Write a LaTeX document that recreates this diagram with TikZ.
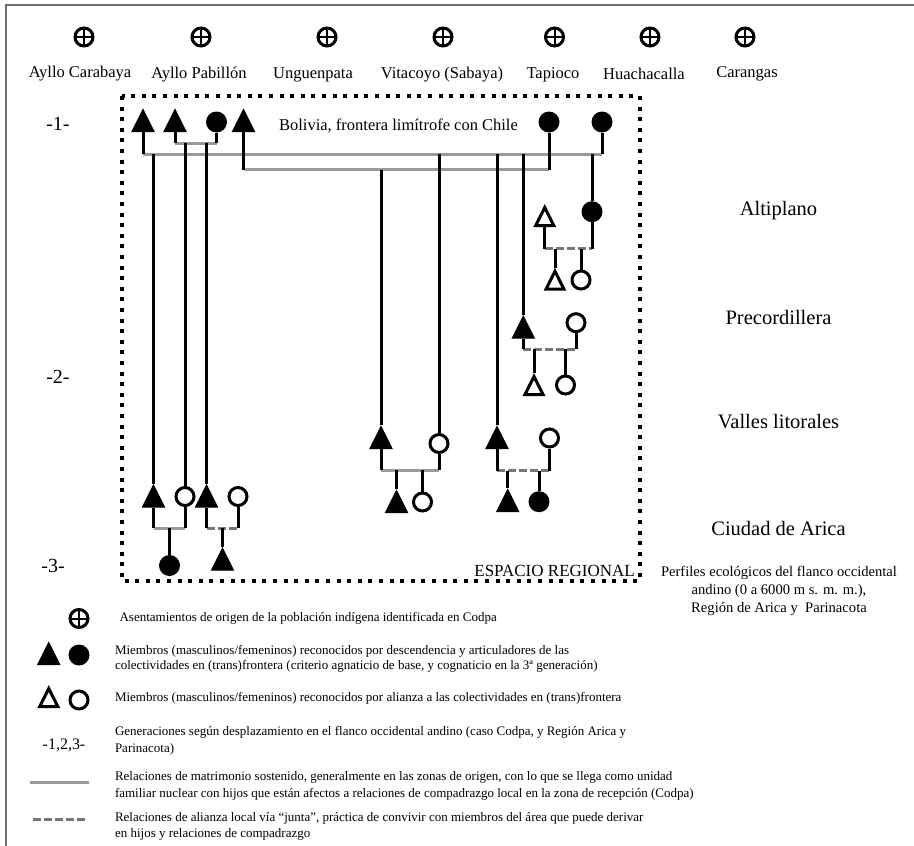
\documentclass[tikz,border=0pt]{standalone}
\usepackage{fontspec}
\setmainfont{Liberation Serif}
\usetikzlibrary{shapes.geometric}
\definecolor{bargray}{HTML}{9A9A9A}
\definecolor{dashgray}{HTML}{777777}
\definecolor{framegray}{HTML}{707070}
\tikzset{
  tri/.style={isosceles triangle,isosceles triangle apex angle=52,isosceles triangle stretches,
    shape border rotate=90,inner sep=0pt,minimum width=22pt,minimum height=22pt,draw=black,line width=1pt,anchor=south},
  man/.style={tri,fill=black},
  ally/.style={tri,fill=white,line width=3pt,minimum width=18pt,minimum height=18pt},
  woman/.style={circle,inner sep=0pt,minimum size=21pt,fill=black},
  wife/.style={circle,inner sep=0pt,minimum size=18pt,draw=black,line width=3pt,fill=white},
  origin/.style={circle,inner sep=0pt,minimum size=18pt,draw=black,line width=3pt,
    path picture={\draw[line width=2pt] (path picture bounding box.north) -- (path picture bounding box.south)
      (path picture bounding box.west) -- (path picture bounding box.east);}},
  stem/.style={line width=3pt,black},
  bar/.style={line width=3pt,bargray},
  junta/.style={line width=3pt,dashgray,dash pattern=on 8pt off 3pt},
  place/.style={font=\fontsize{16.5}{19}\selectfont},
  zone/.style={font=\fontsize{20.5}{24}\selectfont},
  gen/.style={font=\fontsize{20}{24}\selectfont},
  legend/.style={font=\fontsize{13}{15}\selectfont,anchor=west,inner sep=0pt},
}
\begin{document}
\begin{tikzpicture}[x=1pt,y=-1pt]
  \useasboundingbox (0,0) rectangle (914,846);
  % marco
  \draw[framegray,line width=2pt] (914,5) -- (6,5) -- (6,846);
  % asentamientos
  \node[origin] (o1) at (84,37) {};
  \node[origin] (o2) at (201,37) {};
  \node[origin] (o3) at (327,37) {};
  \node[origin] (o4) at (443,37) {};
  \node[origin] (o5) at (554.5,37) {};
  \node[origin] (o6) at (650,37) {};
  \node[origin] (o7) at (745,37) {};
  \node[place] (carabaya) at (80,74) {Ayllo Carabaya};
  \node[place] (pabellon) at (199,75) {Ayllo Pabillón};
  \node[place] (unguen) at (313,75) {Unguenpata};
  \node[place] (vitacoyo) at (442,75) {Vitacoyo (Sabaya)};
  \node[place] (tapioco) at (553,75) {Tapioco};
  \node[place] (huacha) at (644,74) {Huachacalla};
  \node[place] (carangas) at (747,74) {Carangas};
  % espacio regional
  \draw[line width=4pt,dash pattern=on 4pt off 6.6pt] (122,96) rectangle (640,581);
  \node[place,font=\fontsize{17}{19}\selectfont,anchor=east,inner sep=0pt] (espacio) at (635,571) {ESPACIO REGIONAL};
  \node[place] (bolivia) at (398.5,126) {Bolivia, frontera limítrofe con Chile};
  % generaciones
  \node[gen] (g1) at (58,124) {-1-};
  \node[gen] (g2) at (58,377) {-2-};
  \node[gen] (g3) at (53,566) {-3-};
  % pisos
  \node[zone] (alti) at (778.5,211) {Altiplano};
  \node[zone] (preco) at (778.5,317.5) {Precordillera};
  \node[zone] (valles) at (778.5,422) {Valles litorales};
  \node[zone] (ciudad) at (778.5,528) {Ciudad de Arica};
  \node[place,align=center,font=\fontsize{14.6}{18}\selectfont] (perfiles) at (779,591) {Perfiles ecológicos del flanco occidental\\andino (0 a 6000 m s. m. m.),\\Región de Arica y~ Parinacota};
  % primera generacion
  \node[man] (a1) at (143,132) {};
  \node[man] (a2) at (175,132) {};
  \node[woman] (a3) at (216.5,122) {};
  \node[man] (a4) at (243.5,132) {};
  \node[woman] (a5) at (549,122) {};
  \node[woman] (a6) at (602,122) {};
  \coordinate (ba) at (0,143);
  \coordinate (bb) at (0,154);
  \coordinate (bc) at (0,169.5);
  \draw[bar] (a2 |- ba) -- (a3 |- ba);
  \draw[bar] (a1 |- bb) -- (a6 |- bb);
  \draw[bar] (a4 |- bc) -- (a5 |- bc);
  \draw[stem] (a1.south) -- (a1 |- bb);
  \draw[stem] (a2.south) -- (a2 |- ba);
  \draw[stem] (a3.south) -- (a3 |- ba);
  \draw[stem] (a4.south) -- (a4 |- bc);
  \draw[stem] (a5.south) -- (a5 |- bc);
  \draw[stem] (a6.south) -- (a6 |- bb);
  % Arica, izquierda
  \node[man] (b1) at (153.5,507.5) {};
  \node[wife] (b2) at (185,496.5) {};
  \node[man] (b3) at (206.5,507.5) {};
  \node[wife] (b4) at (238,496.5) {};
  \node[woman] (b5) at (169.5,565.5) {};
  \node[man] (b6) at (222.5,570.7) {};
  \coordinate (bd) at (0,528);
  \draw[bar] (b1 |- bd) -- (b2 |- bd);
  \draw[junta] (b3 |- bd) -- (b4 |- bd);
  \draw[stem] (b1.north) -- (b1 |- bb);
  \draw[stem] (b2.north) -- (b2 |- ba);
  \draw[stem] (b3.north) -- (b3 |- ba);
  \foreach \n in {b1,b2,b3,b4} \draw[stem] (\n.south) -- (\n |- bd);
  \foreach \n in {b5,b6} \draw[stem] (\n.north) -- (\n |- bd);
  % Vitacoyo
  \node[man] (c1) at (381,449) {};
  \node[wife] (c2) at (439,443.5) {};
  \node[man] (c3) at (396.5,513) {};
  \node[wife] (c4) at (422.5,502) {};
  \coordinate (be) at (0,470);
  \draw[bar] (c1 |- be) -- (c2 |- be);
  \draw[stem] (c1.north) -- (c1 |- bc);
  \draw[stem] (c2.north) -- (c2 |- bb);
  \foreach \n in {c1,c2} \draw[stem] (\n.south) -- (\n |- be);
  \foreach \n in {c3,c4} \draw[stem] (\n.north) -- (\n |- be);
  % Tapioco, valles
  \node[man] (d1) at (497,449) {};
  \node[wife] (d2) at (549.5,438) {};
  \node[man] (d3) at (507.7,512) {};
  \node[woman] (d4) at (539,501.7) {};
  \coordinate (bf) at (0,470.5);
  \draw[junta] (d1 |- bf) -- (d2 |- bf);
  \draw[stem] (d1.north) -- (d1 |- bb);
  \draw[stem] (d2.south) -- (d2 |- bf);
  \draw[stem] (d1.south) -- (d1 |- bf);
  \foreach \n in {d3,d4} \draw[stem] (\n.north) -- (\n |- bf);
  % precordillera
  \node[man] (e1) at (523.3,338.7) {};
  \node[wife] (e2) at (576,322.7) {};
  \node[ally] (e3) at (534,396) {};
  \node[wife] (e4) at (565.5,385) {};
  \coordinate (bg) at (0,349);
  \draw[junta] (e1 |- bg) -- (e2 |- bg);
  \draw[stem] (e1.north) -- (e1 |- bb);
  \foreach \n in {e1,e2} \draw[stem] (\n.south) -- (\n |- bg);
  \foreach \n in {e3,e4} \draw[stem] (\n.north) -- (\n |- bg);
  % altiplano
  \node[woman] (f1) at (592,211.7) {};
  \node[ally] (f2) at (544.7,227) {};
  \node[ally] (f3) at (555,290.7) {};
  \node[wife] (f4) at (581,280) {};
  \coordinate (bh) at (0,248.7);
  \draw[junta] (f2 |- bh) -- (f1 |- bh);
  \draw[stem] (f1.north) -- (f1 |- bb);
  \foreach \n in {f1,f2} \draw[stem] (\n.south) -- (\n |- bh);
  \foreach \n in {f3,f4} \draw[stem] (\n.north) -- (\n |- bh);
  % leyenda
  \node[origin] (l1) at (79,618.5) {};
  \node[man] (l2) at (48.7,665) {};
  \node[woman] (l3) at (79,655) {};
  \node[ally] (l4) at (48.7,708) {};
  \node[wife] (l5) at (79,700) {};
  \node[place,font=\fontsize{16}{18}\selectfont] (l6) at (64,745) {-1,2,3-};
  \coordinate (l7a) at (30,782);
  \coordinate (l7b) at (88.6,782);
  \coordinate (l8a) at (33,819);
  \coordinate (l8b) at (85,819);
  \draw[bar] (l7a) -- (l7b);
  \draw[junta] (l8a) -- (l8b);
  \node[legend] (t1) at (119.4,618) {Asentamientos de origen de la población indígena identificada en Codpa};
  \node[legend] (t2) at (114.8,651) {Miembros (masculinos/femeninos) reconocidos por descendencia y articuladores de las};
  \node[legend] (t3) at (114.8,666) {colectividades en (trans)frontera (criterio agnaticio de base, y cognaticio en la 3ª generación)};
  \node[legend] (t4) at (114.8,698) {Miembros (masculinos/femeninos) reconocidos por alianza a las colectividades en (trans)frontera};
  \node[legend] (t5) at (114.8,732) {Generaciones según desplazamiento en el flanco occidental andino (caso Codpa, y Región Arica y};
  \node[legend] (t6) at (114.8,749) {Parinacota)};
  \node[legend] (t7) at (114.8,777) {Relaciones de matrimonio sostenido, generalmente en las zonas de origen, con lo que se llega como unidad};
  \node[legend] (t8) at (114.8,794) {familiar nuclear con hijos que están afectos a relaciones de compadrazgo local en la zona de recepción (Codpa)};
  \node[legend] (t9) at (114.8,818) {Relaciones de alianza local vía “junta”, práctica de convivir con miembros del área que puede derivar};
  \node[legend] (t10) at (114.8,834) {en hijos y relaciones de compadrazgo};
\end{tikzpicture}
\end{document}
